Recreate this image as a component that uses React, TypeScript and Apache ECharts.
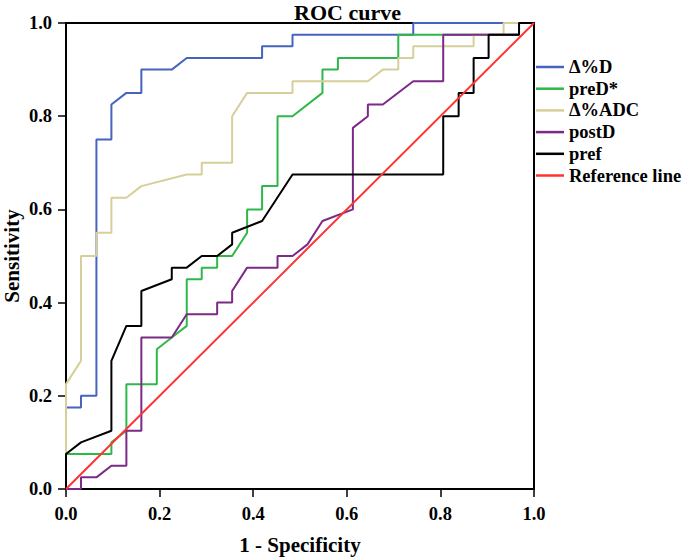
import React, { useEffect, useRef } from "react";
import * as echarts from "echarts";

// ROC curve points: [1 - Specificity, Sensitivity]
const deltaD: [number, number][] = [
  [0, 0], [0, 0.175], [0.032, 0.175], [0.032, 0.2], [0.065, 0.2], [0.065, 0.75],
  [0.097, 0.75], [0.097, 0.825], [0.129, 0.85], [0.161, 0.85], [0.161, 0.9],
  [0.226, 0.9], [0.258, 0.925], [0.419, 0.925], [0.419, 0.95], [0.484, 0.95],
  [0.484, 0.975], [0.742, 0.975], [0.742, 1], [1, 1],
];

const preD: [number, number][] = [
  [0, 0], [0, 0.075], [0.097, 0.075], [0.097, 0.1], [0.129, 0.125], [0.129, 0.225],
  [0.194, 0.225], [0.194, 0.3], [0.226, 0.325], [0.258, 0.35], [0.258, 0.45],
  [0.29, 0.45], [0.29, 0.475], [0.323, 0.475], [0.323, 0.5], [0.355, 0.5],
  [0.387, 0.55], [0.387, 0.6], [0.419, 0.6], [0.419, 0.65], [0.452, 0.65],
  [0.452, 0.8], [0.484, 0.8], [0.548, 0.85], [0.548, 0.9], [0.581, 0.9],
  [0.581, 0.925], [0.71, 0.925], [0.71, 0.975], [0.968, 0.975], [0.968, 1], [1, 1],
];

const deltaADC: [number, number][] = [
  [0, 0], [0, 0.225], [0.032, 0.275], [0.032, 0.5], [0.065, 0.5], [0.065, 0.55],
  [0.097, 0.55], [0.097, 0.625], [0.129, 0.625], [0.161, 0.65], [0.258, 0.675],
  [0.29, 0.675], [0.29, 0.7], [0.355, 0.7], [0.355, 0.8], [0.387, 0.85],
  [0.484, 0.85], [0.484, 0.875], [0.645, 0.875], [0.677, 0.9], [0.71, 0.9],
  [0.71, 0.925], [0.742, 0.925], [0.742, 0.95], [0.871, 0.95], [0.871, 0.975],
  [0.935, 0.975], [0.935, 1], [1, 1],
];

const postD: [number, number][] = [
  [0, 0], [0.032, 0], [0.032, 0.025], [0.065, 0.025], [0.097, 0.05], [0.129, 0.05],
  [0.129, 0.125], [0.161, 0.125], [0.161, 0.325], [0.226, 0.325], [0.258, 0.375],
  [0.323, 0.375], [0.323, 0.4], [0.355, 0.4], [0.355, 0.425], [0.387, 0.475],
  [0.452, 0.475], [0.452, 0.5], [0.484, 0.5], [0.516, 0.525], [0.548, 0.575],
  [0.613, 0.6], [0.613, 0.775], [0.645, 0.8], [0.645, 0.825], [0.677, 0.825],
  [0.742, 0.875], [0.806, 0.875], [0.806, 0.975], [0.968, 0.975], [0.968, 1], [1, 1],
];

const pref: [number, number][] = [
  [0, 0], [0, 0.075], [0.032, 0.1], [0.097, 0.125], [0.097, 0.275], [0.129, 0.35],
  [0.161, 0.35], [0.161, 0.425], [0.226, 0.45], [0.226, 0.475], [0.258, 0.475],
  [0.29, 0.5], [0.323, 0.5], [0.355, 0.525], [0.355, 0.55], [0.419, 0.575],
  [0.484, 0.675], [0.806, 0.675], [0.806, 0.8], [0.839, 0.8], [0.839, 0.85],
  [0.871, 0.85], [0.871, 0.925], [0.903, 0.925], [0.903, 0.975], [0.968, 0.975],
  [0.968, 1], [1, 1],
];

const referenceLine: [number, number][] = [
  [0, 0], [1, 1],
];

const seriesNames = ["Δ%D", "preD*", "Δ%ADC", "postD", "pref", "Reference line"];
const seriesColors = ["#4563bf", "#2fb84a", "#d6cf9a", "#7b2a86", "#000000", "#ff3333"];
const seriesData = [deltaD, preD, deltaADC, postD, pref, referenceLine];

const FONT = "Liberation Serif";

export default function App() {
  const ref = useRef<HTMLDivElement>(null);

  useEffect(() => {
    if (!ref.current) return;
    const chart = echarts.init(ref.current, undefined, { renderer: "svg" });
    chart.setOption({
      animation: false,
      backgroundColor: "#ffffff",
      textStyle: { fontFamily: FONT },
      title: {
        text: "ROC curve",
        left: 294,
        top: 1,
        padding: 0,
        textStyle: { fontFamily: FONT, fontWeight: "bold", fontSize: 22, color: "#000" },
      },
      legend: {
        orient: "vertical",
        left: 536,
        top: 57,
        padding: 0,
        itemGap: 1.7,
        itemWidth: 28,
        itemHeight: 2.5,
        icon: "rect",
        data: seriesNames,
        textStyle: {
          fontFamily: FONT,
          fontWeight: "bold",
          fontSize: 18.5,
          color: "#000",
          lineHeight: 20,
        },
      },
      grid: {
        left: 66,
        top: 23,
        width: 468,
        height: 466,
        containLabel: false,
        outerBoundsMode: "none",
        show: true,
        borderColor: "#000",
        borderWidth: 2,
        backgroundColor: "transparent",
      },
      xAxis: {
        type: "value",
        min: 0,
        max: 1,
        interval: 0.2,
        name: "1 - Specificity",
        nameLocation: "middle",
        nameGap: 45,
        nameMoveOverlap: false,
        nameTextStyle: { fontFamily: FONT, fontWeight: "bold", fontSize: 21, color: "#000" },
        axisLine: { show: true, lineStyle: { color: "#000", width: 2 } },
        axisTick: { show: true, length: 8, lineStyle: { color: "#000", width: 1.5 } },
        axisLabel: {
          margin: 15,
          fontFamily: FONT,
          fontWeight: "bold",
          fontSize: 18.5,
          color: "#000",
          formatter: (v: number) => v.toFixed(1),
        },
        splitLine: { show: false },
      },
      yAxis: {
        type: "value",
        min: 0,
        max: 1,
        interval: 0.2,
        name: "Sensitivity",
        nameLocation: "middle",
        nameGap: 46,
        nameMoveOverlap: false,
        nameTextStyle: {
          fontFamily: FONT,
          fontWeight: "bold",
          fontSize: 21,
          lineHeight: 16,
          color: "#000",
        },
        axisLine: { show: true, lineStyle: { color: "#000", width: 2 } },
        axisTick: { show: true, length: 8, lineStyle: { color: "#000", width: 1.5 } },
        axisLabel: {
          margin: 14,
          fontFamily: FONT,
          fontWeight: "bold",
          fontSize: 18.5,
          color: "#000",
          formatter: (v: number) => v.toFixed(1),
        },
        splitLine: { show: false },
      },
      series: seriesNames.map((name, i) => ({
        name,
        type: "line",
        data: seriesData[i],
        showSymbol: false,
        symbol: "none",
        color: seriesColors[i],
        lineStyle: { color: seriesColors[i], width: 2 },
        z: 2 + i,
      })),
    });
    return () => chart.dispose();
  }, []);

  return (
    <div
      ref={ref}
      style={{ position: "fixed", left: 0, top: 0, width: 685, height: 560 }}
    />
  );
}
